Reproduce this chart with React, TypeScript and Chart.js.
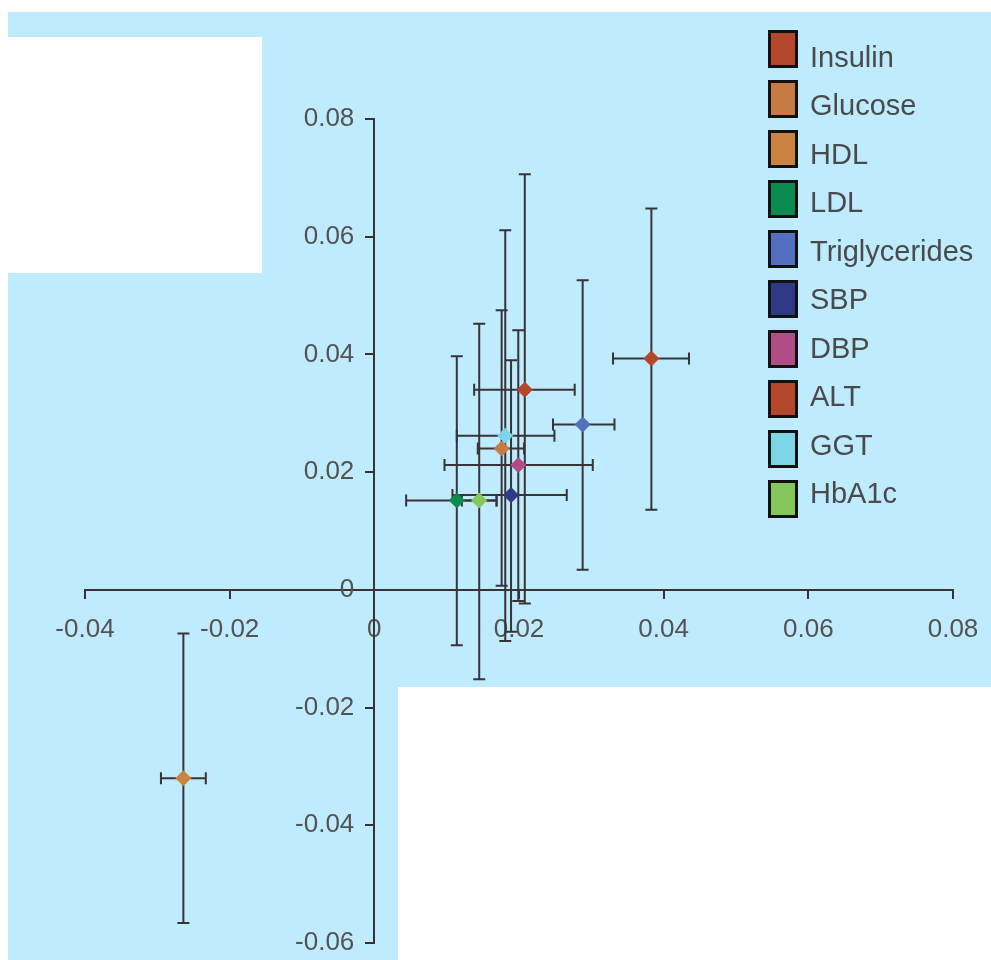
import React, { useEffect, useRef } from 'react';
import { Chart, registerables } from 'chart.js';

Chart.register(...registerables);

// ---------- data ----------
const seriesNames = ['Insulin', 'Glucose', 'HDL', 'LDL', 'Triglycerides', 'SBP', 'DBP', 'ALT', 'GGT', 'HbA1c'];
const seriesColors = ['#B4462B', '#C77A43', '#C9853F', '#0B8B4F', '#5270BF', '#2E3A86', '#B04C86', '#B4462B', '#7DD5E6', '#84C75A'];
const xValues = [0.0208, 0.0176, -0.0264, 0.0114, 0.0288, 0.0189, 0.0199, 0.0383, 0.0181, 0.0145];
const yValues = [0.0340, 0.0240, -0.0320, 0.0152, 0.0281, 0.0161, 0.0212, 0.0393, 0.0262, 0.0152];
const xLow = [0.0138, 0.0143, -0.0295, 0.0044, 0.0247, 0.0108, 0.0097, 0.0330, 0.0114, 0.0121];
const xHigh = [0.0277, 0.0207, -0.0233, 0.0169, 0.0332, 0.0266, 0.0302, 0.0435, 0.0249, 0.0169];
const yLow = [-0.0023, 0.0007, -0.0566, -0.0094, 0.0034, -0.0071, -0.0019, 0.0136, -0.0087, -0.0152];
const yHigh = [0.0706, 0.0475, -0.0074, 0.0397, 0.0526, 0.0390, 0.0441, 0.0648, 0.0611, 0.0452];
const xTicks = [-0.04, -0.02, 0, 0.02, 0.04, 0.06, 0.08];
const yTicks = [-0.06, -0.04, -0.02, 0, 0.02, 0.04, 0.06, 0.08];

const AXIS_COLOR = '#3A3336';
const LABEL_COLOR = '#575252';
const FONT = "'Liberation Sans', Arial, sans-serif";

const fmt = (v: number) => (Math.abs(v) < 1e-9 ? '0' : v.toFixed(2));

const zeroPadding = (scale: any) => {
  scale.paddingLeft = 0;
  scale.paddingRight = 0;
  scale.paddingTop = 0;
  scale.paddingBottom = 0;
};

const errorBarPlugin = {
  id: 'errorBars',
  beforeDatasetsDraw(chart: any) {
    const { ctx } = chart;
    const xs = chart.scales.x;
    const ys = chart.scales.y;
    const cap = 6;
    ctx.save();
    ctx.strokeStyle = AXIS_COLOR;
    ctx.lineWidth = 2;
    for (let i = 0; i < xValues.length; i++) {
      const px = xs.getPixelForValue(xValues[i]);
      const py = ys.getPixelForValue(yValues[i]);
      const x1 = xs.getPixelForValue(xLow[i]);
      const x2 = xs.getPixelForValue(xHigh[i]);
      const y1 = ys.getPixelForValue(yLow[i]);
      const y2 = ys.getPixelForValue(yHigh[i]);
      ctx.beginPath();
      ctx.moveTo(px, y1); ctx.lineTo(px, y2);
      ctx.moveTo(px - cap, y1); ctx.lineTo(px + cap, y1);
      ctx.moveTo(px - cap, y2); ctx.lineTo(px + cap, y2);
      ctx.moveTo(x1, py); ctx.lineTo(x2, py);
      ctx.moveTo(x1, py - cap); ctx.lineTo(x1, py + cap);
      ctx.moveTo(x2, py - cap); ctx.lineTo(x2, py + cap);
      ctx.stroke();
    }
    ctx.restore();
  },
};

// y-axis labels sit at the axis line when the axis crosses at x = 0; move them left of the tick marks
const yLabelOffsetPlugin = {
  id: 'yLabelOffset',
  beforeDraw(chart: any) {
    const ys = chart.scales.y;
    const items = ys.getLabelItems();
    items.forEach((it: any) => {
      if (!it._shifted) {
        it.options.translation[0] -= 20;
        it._shifted = true;
      }
    });
  },
};

function ScatterChart() {
  const ref = useRef<HTMLCanvasElement | null>(null);
  useEffect(() => {
    if (!ref.current) return;
    const datasets = seriesNames.map((name, i) => ({
      label: name,
      data: [{ x: xValues[i], y: yValues[i] }],
      pointStyle: 'rectRot',
      pointRadius: 7.5,
      pointBackgroundColor: seriesColors[i],
      pointBorderColor: seriesColors[i],
      pointBorderWidth: 1,
      showLine: false,
    }));
    const chart = new Chart(ref.current, {
      type: 'scatter',
      data: { datasets },
      plugins: [errorBarPlugin, yLabelOffsetPlugin],
      options: {
        animation: false,
        responsive: false,
        events: [],
        layout: { padding: { left: 85, right: 38, top: 119, bottom: 17 } },
        plugins: { legend: { display: false }, tooltip: { enabled: false } },
        scales: {
          x: {
            type: 'linear',
            position: { y: 0 } as any,
            min: xTicks[0],
            max: xTicks[xTicks.length - 1],
            afterBuildTicks: (scale: any) => { scale.ticks = xTicks.map((v) => ({ value: v })); },
            afterFit: (scale: any) => { scale.height = 0; zeroPadding(scale); },
            grid: { drawOnChartArea: false, drawTicks: true, tickLength: 8, tickColor: AXIS_COLOR, tickWidth: 2, color: AXIS_COLOR, lineWidth: 2 },
            border: { display: true, color: AXIS_COLOR, width: 2 },
            ticks: { color: LABEL_COLOR, font: { family: FONT, size: 26 }, padding: 16, maxRotation: 0, autoSkip: false, callback: (v: any) => fmt(Number(v)) },
          },
          y: {
            type: 'linear',
            position: { x: 0 } as any,
            min: yTicks[0],
            max: yTicks[yTicks.length - 1],
            afterBuildTicks: (scale: any) => { scale.ticks = yTicks.map((v) => ({ value: v })); },
            afterFit: (scale: any) => { scale.width = 0; zeroPadding(scale); },
            grid: { drawOnChartArea: false, drawTicks: true, tickLength: 8, tickColor: AXIS_COLOR, tickWidth: 2, color: AXIS_COLOR, lineWidth: 2 },
            border: { display: true, color: AXIS_COLOR, width: 2 },
            ticks: { color: LABEL_COLOR, font: { family: FONT, size: 26 }, padding: 12, autoSkip: false, callback: (v: any) => fmt(Number(v)) },
          },
        },
      } as any,
    });
    return () => chart.destroy();
  }, []);
  return (
    <canvas
      ref={ref}
      width={991}
      height={960}
      style={{ position: 'absolute', left: 0, top: 0, width: 991, height: 960 }}
    />
  );
}

export default function App() {
  return (
    <div style={{ position: 'absolute', left: 0, top: 0, width: 991, height: 960, background: '#FFFFFF', overflow: 'hidden' }}>
      <div style={{ position: 'absolute', left: 8, top: 12, width: 983, height: 948, background: '#BEEBFD' }} />
      <div style={{ position: 'absolute', left: 8, top: 37, width: 254, height: 236, background: '#FFFFFF' }} />
      <div style={{ position: 'absolute', left: 398, top: 687, width: 593, height: 273, background: '#FFFFFF' }} />
      <ScatterChart />
      {seriesNames.map((name, i) => (
        <React.Fragment key={name}>
          <div
            style={{
              position: 'absolute',
              left: 768,
              top: 30 + 50 * i,
              width: 30,
              height: 38,
              boxSizing: 'border-box',
              border: '3px solid #111111',
              background: seriesColors[i],
            }}
          />
          <div
            style={{
              position: 'absolute',
              left: 810,
              top: 36.7 + 48.5 * i,
              height: 40,
              lineHeight: '40px',
              fontFamily: FONT,
              fontSize: 29,
              color: '#4A4A4A',
              whiteSpace: 'nowrap',
            }}
          >
            {name}
          </div>
        </React.Fragment>
      ))}
    </div>
  );
}
